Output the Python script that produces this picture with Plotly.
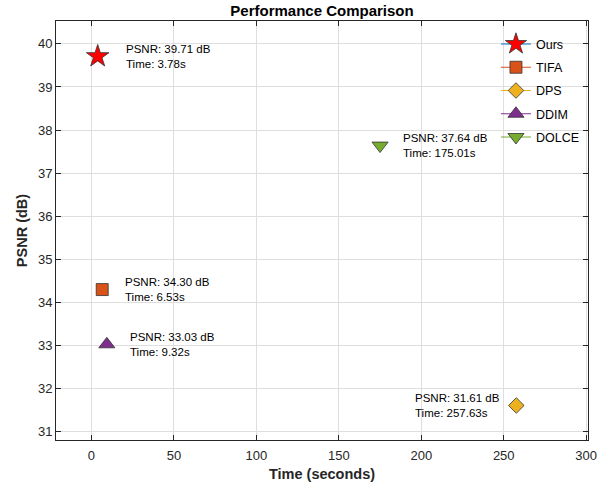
import plotly.graph_objects as go

# Data
methods = ["Ours", "TIFA", "DPS", "DDIM", "DOLCE"]
times = [3.78, 6.53, 257.63, 9.32, 175.01]
psnr = [39.71, 34.30, 31.61, 33.03, 37.64]

# Styles
marker_colors = ["#FF0000", "#D95319", "#EDB120", "#7E2F8E", "#77AC30"]
line_colors = ["#0072BD", "#D95319", "#EDB120", "#7E2F8E", "#77AC30"]
symbols = ["star", "square", "diamond", "triangle-up", "triangle-down"]
sizes = [17, 12, 12, 14, 14]
label_side = ["right", "right", "left", "right", "right"]
label_shift = [26, 21, -14, 21, 21]

FONT = "Liberation Sans, Arial, Helvetica, sans-serif"
AX = "#262626"

fig = go.Figure()
for i, m in enumerate(methods):
    fig.add_trace(go.Scatter(
        x=[times[i]], y=[psnr[i]], name=m, mode="lines+markers",
        legendgroup=m,
        line=dict(color=line_colors[i], width=1),
        marker=dict(symbol=symbols[i], size=sizes[i], color=marker_colors[i],
                    line=dict(color="#333333", width=0.8)),
    ))
    fig.add_annotation(
        x=times[i], y=psnr[i], xref="x", yref="y",
        text=f"PSNR: {psnr[i]:.2f} dB<br>Time: {times[i]:.2f}s",
        showarrow=False, align="left",
        xanchor="left" if label_side[i] == "right" else "right",
        yanchor="middle", xshift=label_shift[i],
        font=dict(family=FONT, size=11.5, color="#000000"),
    )

axis_common = dict(
    showline=True, linecolor=AX, linewidth=1, mirror="ticks",
    ticks="inside", ticklen=5, tickcolor=AX, tickwidth=1,
    showgrid=True, gridcolor="#DEDEDE", gridwidth=1, zeroline=False,
    tickfont=dict(family=FONT, size=13, color=AX), automargin=False,
)

fig.update_layout(
    width=603, height=482,
    margin=dict(l=56, r=15, t=21, b=42),
    paper_bgcolor="white", plot_bgcolor="white",
    font=dict(family=FONT, color=AX),
    title=dict(text="<b>Performance Comparison</b>", x=0.5, xref="paper",
               y=1 - 11 / 482, yref="container", xanchor="center", yanchor="middle",
               font=dict(family=FONT, size=15, color="#000000")),
    xaxis=dict(range=[-21.5, 301.1], tickvals=[0, 50, 100, 150, 200, 250, 300],
               ticklabelstandoff=3,
               title=dict(text="<b>Time (seconds)</b>", standoff=7,
                          font=dict(family=FONT, size=14.5, color=AX)),
               **axis_common),
    yaxis=dict(range=[30.81, 40.53], tickvals=list(range(31, 41)),
               title=dict(text="<b>PSNR (dB)</b>", standoff=6,
                          font=dict(family=FONT, size=14.5, color=AX)),
               **axis_common),
    legend=dict(x=0.827, y=0.98, xanchor="left", yanchor="top",
                bgcolor="rgba(0,0,0,0)", borderwidth=0,
                font=dict(family=FONT, size=12.5, color="#000000"),
                traceorder="grouped", tracegroupgap=4),
)

fig.write_html("out.html", config={"displayModeBar": False},
               post_script="document.body.style.margin='0';document.body.style.padding='0';")
